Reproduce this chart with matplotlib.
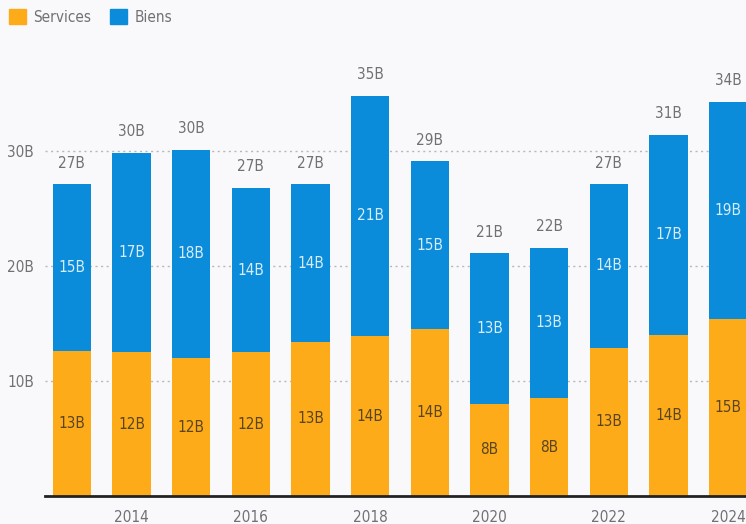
import matplotlib
matplotlib.use("Agg")
import matplotlib.pyplot as plt
from matplotlib.patches import Patch

years = [2013, 2014, 2015, 2016, 2017, 2018, 2019, 2020, 2021, 2022, 2023, 2024]
services = [12.6, 12.5, 12.0, 12.5, 13.4, 13.9, 14.5, 8.0, 8.5, 12.9, 14.0, 15.4]
biens = [14.5, 17.3, 18.1, 14.3, 13.7, 20.9, 14.6, 13.1, 13.1, 14.2, 17.4, 18.9]
services_lbl = ["13B", "12B", "12B", "12B", "13B", "14B", "14B", "8B", "8B", "13B", "14B", "15B"]
biens_lbl = ["15B", "17B", "18B", "14B", "14B", "21B", "15B", "13B", "13B", "14B", "17B", "19B"]
total_lbl = ["27B", "30B", "30B", "27B", "27B", "35B", "29B", "21B", "22B", "27B", "31B", "34B"]
yticks = [10, 20, 30]
ytick_lbl = ["10B", "20B", "30B"]
xticks = [2014, 2016, 2018, 2020, 2022, 2024]

C_SERV = "#FDAB18"
C_BIEN = "#0A8CDB"
TXT = "#707075"
BG = "#F9F9FB"

plt.rcParams['font.family'] = ['DejaVu Sans']
plt.rcParams['font.stretch'] = 'condensed'

fig = plt.figure(figsize=(7.46, 5.24), dpi=100, facecolor=BG)
ax = fig.add_axes([45/746, (524-496)/524, (746-45)/746, (496-50)/524])
ax.set_facecolor(BG)

for y in yticks:
    ax.axhline(y, color="#b8b8bc", lw=1.0, ls=(0, (1.5, 2.5)), zorder=0)

w = 0.64
ax.bar(years, services, width=w, color=C_SERV, zorder=2)
ax.bar(years, biens, width=w, bottom=services, color=C_BIEN, zorder=2)

for x, s, b, sl, bl, tl in zip(years, services, biens, services_lbl, biens_lbl, total_lbl):
    ax.text(x, s/2, sl, ha="center", va="center", fontsize=11, color="#5a4520", zorder=3)
    ax.text(x, s + b/2, bl, ha="center", va="center", fontsize=11, color="#d8ecf8", zorder=3)
    ax.text(x, s + b + 1.2, tl, ha="center", va="bottom", fontsize=11, color=TXT, zorder=3)

ax.set_xlim(2012.55, 2024.3)
ax.set_ylim(0, (496-50)/11.5)
ax.set_yticks(yticks)
ax.set_yticklabels(ytick_lbl)
ax.set_xticks(xticks)
ax.set_xticklabels([str(x) for x in xticks])
ax.tick_params(axis="both", length=0, labelsize=11, labelcolor=TXT)
ax.tick_params(axis="y", pad=8)
ax.tick_params(axis="x", pad=10)
for sp in ["top", "right", "left"]:
    ax.spines[sp].set_visible(False)
ax.spines["bottom"].set_color("#222222")
ax.spines["bottom"].set_linewidth(2)
ax.spines["bottom"].set_zorder(4)

handles = [Patch(color=C_SERV, label="Services"), Patch(color=C_BIEN, label="Biens")]
fig.legend(handles=handles, loc="upper left", bbox_to_anchor=(0.0, 1.0), ncol=2,
           frameon=False, fontsize=11, labelcolor=TXT, handlelength=1.1, handleheight=1.1,
           handletextpad=0.5, columnspacing=1.2, borderaxespad=0.2)

fig.savefig("out.png", dpi=100, facecolor=BG)
